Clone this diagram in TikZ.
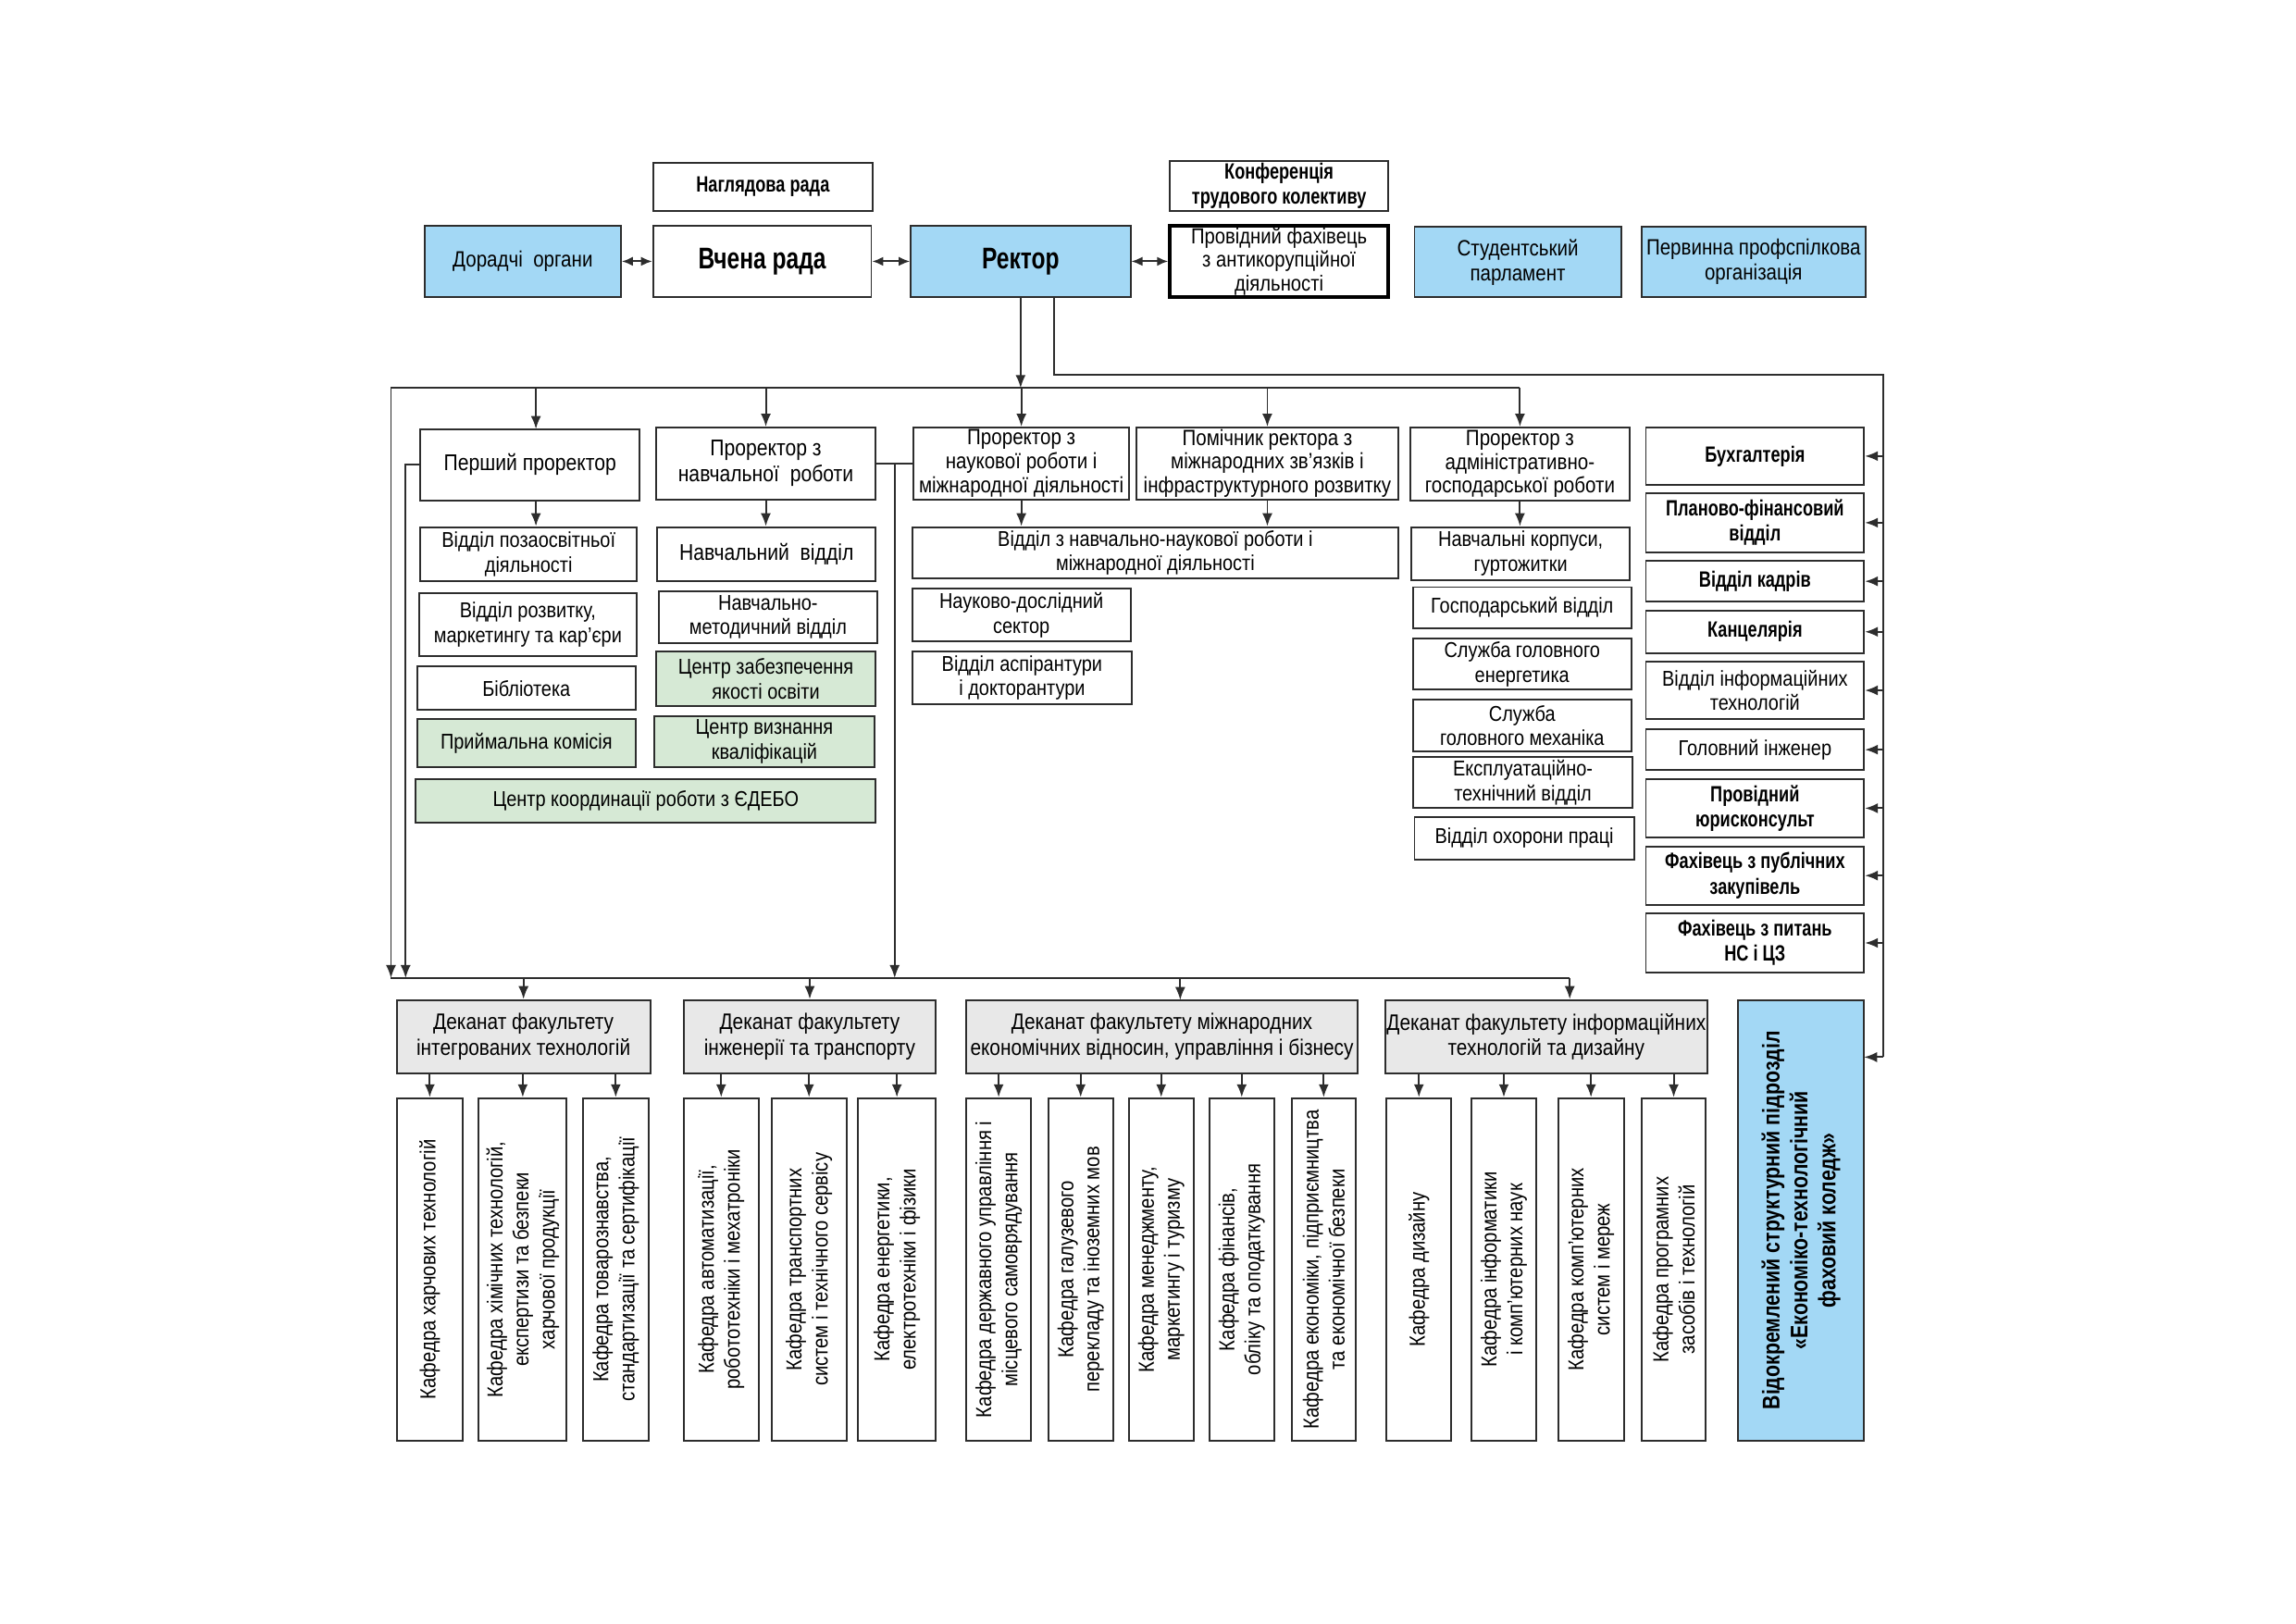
\documentclass[tikz,border=0pt]{standalone}
\usepackage{fontspec}
\setmainfont{Liberation Sans}[FakeStretch=0.86]
\newfontfamily\titlefont{Liberation Sans}[FakeStretch=0.76]
\newfontfamily\vidfont{Liberation Sans}[FakeStretch=0.82]
\usetikzlibrary{arrows.meta,calc}
\definecolor{cblue}{RGB}{163,216,245}
\definecolor{cgreen}{RGB}{214,233,213}
\definecolor{cgray}{RGB}{232,232,232}
\definecolor{lc}{RGB}{45,45,45}
\newcommand{\fMain}{\fontsize{6.6}{7.6}\selectfont}
\newcommand{\fTop}{\fontsize{6.8}{7.7}\selectfont}
\newcommand{\fBoldM}{\titlefont\bfseries\fontsize{6.8}{7.7}\selectfont}
\newcommand{\fTitle}{\titlefont\bfseries\fontsize{9.2}{10}\selectfont}
\newcommand{\fKaf}{\fontsize{6.7}{8}\selectfont}
\newcommand{\fVid}{\vidfont\bfseries\fontsize{7.4}{8.6}\selectfont}
\newcommand{\fDean}{\fontsize{6.9}{7.8}\selectfont}
\newcommand{\fVice}{\fontsize{6.8}{7.3}\selectfont}
\newcommand{\mybox}[7]{%
  \pgfmathsetmacro{\myW}{(#5-#3)*0.158227}%
  \pgfmathsetmacro{\myH}{(#6-#4)*0.158227}%
  \node[#1,minimum width=\myW mm,minimum height=\myH mm] (#2) at ({(#3+#5)/2},{(#4+#6)/2}) {#7};}
\newcommand{\mykaf}[7]{%
  \pgfmathsetmacro{\myW}{(#5-#3)*0.158227}%
  \pgfmathsetmacro{\myH}{(#6-#4)*0.158227}%
  \node[#1,rotate=90,minimum width=\myH mm,minimum height=\myW mm] (#2) at ({(#3+#5)/2},{(#4+#6)/2}) {#7};}
\tikzset{
  base/.style={draw=lc,line width=0.55pt,inner sep=0pt,align=center,font=\fMain},
  topreg/.style={base,font=\fTop},
  topbold/.style={base,font=\fBoldM},
  title/.style={base,font=\fTitle},
  bluebox/.style={fill=cblue},
  greenbox/.style={base,fill=cgreen},
  rbold/.style={base,font=\fBoldM},
  dean/.style={base,fill=cgray,font=\fDean},
  kaf/.style={base,font=\fKaf},
  vid/.style={base,fill=cblue,font=\fVid},
  vice/.style={base,font=\fVice},
  arr/.style={draw=lc,line width=0.55pt,-{Latex[length=1.4mm,width=1.1mm]}},
  darr/.style={draw=lc,line width=0.55pt,{Latex[length=1.2mm,width=1mm]}-{Latex[length=1.2mm,width=1mm]}},
  ln/.style={draw=lc,line width=0.55pt}
}
\begin{document}
\begin{tikzpicture}[x=0.158227mm,y=-0.158227mm]
\fill[white] (0,0) rectangle (1568,1109);
\useasboundingbox (0,0) rectangle (1568,1109);

% ---- top row
\mybox{topbold}{nag}{446}{111}{596}{144}{Наглядова рада}
\mybox{topbold}{konf}{799}{110}{948}{144}{Конференція\\трудового колективу}
\mybox{topreg,bluebox}{dor}{290}{154}{424}{203}{Дорадчі\ \ органи}
\mybox{title}{vch}{446}{154}{595}{203}{Вчена рада}
\mybox{title,bluebox}{rek}{622}{154}{772}{203}{Ректор}
\mybox{base,font=\fontsize{6.7}{7.3}\selectfont,draw=black,line width=1.1pt}{prov}{799}{154}{948}{203}{Провідний фахівець\\з антикорупційної\\діяльності}
\mybox{topreg,bluebox}{stud}{966}{155}{1107}{203}{Студентський\\парламент}
\mybox{topreg,bluebox}{perv}{1121}{155}{1274}{203}{Первинна профспілкова\\організація}

% ---- vice-rectors
\mybox{base,font=\fontsize{7}{8}\selectfont}{P1}{287}{293}{437}{342}{Перший проректор}
\mybox{base,font=\fontsize{7}{8}\selectfont}{P2}{448}{292}{598}{341}{Проректор з\\навчальної\ \ роботи}
\mybox{vice}{P3}{624}{292}{771}{341}{Проректор з\\наукової роботи і\\міжнародної діяльності}
\mybox{vice}{P4}{776}{292}{955}{341}{Помічник ректора з\\міжнародних зв’язків і\\інфраструктурного розвитку}
\mybox{vice}{P5}{963}{292}{1113}{342}{Проректор з\\адміністративно-\\господарської роботи}

% ---- under P1
\mybox{base}{A1}{287}{360}{435}{397}{Відділ позаосвітньої\\діяльності}
\mybox{base}{A2}{286}{405}{435}{448}{Відділ розвитку,\\маркетингу та кар’єри}
\mybox{base}{A3}{285}{455}{434}{485}{Бібліотека}
\mybox{greenbox}{A4}{285}{491}{434}{524}{Приймальна комісія}
\mybox{greenbox}{A5}{284}{532}{598}{562}{Центр координації роботи з ЄДЕБО}

% ---- under P2
\mybox{base,font=\fontsize{7}{8}\selectfont}{B1}{449}{360}{598}{397}{Навчальний\ \ відділ}
\mybox{base}{B2}{450}{404}{599}{439}{Навчально-\\методичний відділ}
\mybox{greenbox}{B3}{448}{445}{598}{482}{Центр забезпечення\\якості освіти}
\mybox{greenbox}{B4}{447}{489}{597}{524}{Центр визнання\\кваліфікацій}

% ---- under P3/P4
\mybox{base}{C1}{623}{360}{955}{395}{Відділ з навчально-наукової роботи і\\міжнародної діяльності}
\mybox{base}{C2}{623}{402}{772}{438}{Науково-дослідний\\сектор}
\mybox{base}{C3}{623}{445}{773}{481}{Відділ аспірантури\\і докторантури}

% ---- under P5
\mybox{base}{E1}{964}{360}{1113}{396}{Навчальні корпуси,\\гуртожитки}
\mybox{base}{E2}{965}{401}{1114}{429}{Господарський відділ}
\mybox{base}{E3}{965}{436}{1114}{471}{Служба головного\\енергетика}
\mybox{base}{E4}{965}{478}{1114}{513}{Служба\\головного механіка}
\mybox{base}{E5}{965}{517}{1115}{552}{Експлуатаційно-\\технічний відділ}
\mybox{base}{E6}{966}{558}{1116}{587}{Відділ охорони праці}

% ---- right column
\mybox{rbold}{R1}{1124}{292}{1273}{331}{Бухгалтерія}
\mybox{rbold}{R2}{1124}{337}{1273}{377}{Планово-фінансовий\\відділ}
\mybox{rbold}{R3}{1124}{383}{1273}{411}{Відділ кадрів}
\mybox{rbold}{R4}{1124}{417}{1273}{446}{Канцелярія}
\mybox{base}{R5}{1124}{452}{1273}{491}{Відділ інформаційних\\технологій}
\mybox{base}{R6}{1124}{498}{1273}{526}{Головний інженер}
\mybox{rbold}{R7}{1124}{532}{1273}{572}{Провідний\\юрисконсульт}
\mybox{rbold}{R8}{1124}{578}{1273}{618}{Фахівець з публічних\\закупівель}
\mybox{rbold}{R9}{1124}{624}{1273}{664}{Фахівець з питань\\НС і ЦЗ}

% ---- deaneries
\mybox{dean}{D1}{271}{683}{444}{733}{Деканат факультету\\інтегрованих технологій}
\mybox{dean}{D2}{467}{683}{639}{733}{Деканат факультету\\інженерії та транспорту}
\mybox{dean}{D3}{660}{683}{927}{733}{Деканат факультету міжнародних\\економічних відносин, управління і бізнесу}
\mybox{dean}{D4}{946}{683}{1166}{733}{Деканат факультету інформаційних\\технологій та дизайну}

% ---- departments (vertical)
\mykaf{kaf}{K1}{271}{750}{316}{984}{Кафедра харчових технологій}
\mykaf{kaf}{K2}{327}{750}{387}{984}{Кафедра хімічних технологій,\\експертизи та безпеки\\харчової продукції}
\mykaf{kaf}{K3}{398}{750}{443}{984}{Кафедра товарознавства,\\стандартизації та сертифікації}
\mykaf{kaf}{K4}{467}{750}{518}{984}{Кафедра автоматизації,\\робототехніки і мехатроніки}
\mykaf{kaf}{K5}{527}{750}{578}{984}{Кафедра транспортних\\систем і технічного сервісу}
\mykaf{kaf}{K6}{586}{750}{639}{984}{Кафедра енергетики,\\електротехніки і фізики}
\mykaf{kaf}{K7}{660}{750}{704}{984}{Кафедра державного управління і\\місцевого самоврядування}
\mykaf{kaf}{K8}{716}{750}{760}{984}{Кафедра галузевого\\перекладу та іноземних мов}
\mykaf{kaf}{K9}{771}{750}{815}{984}{Кафедра менеджменту,\\маркетингу і туризму}
\mykaf{kaf}{K10}{826}{750}{870}{984}{Кафедра фінансів,\\обліку та оподаткування}
\mykaf{kaf}{K11}{882}{750}{926}{984}{Кафедра економіки, підприємництва\\та економічної безпеки}
\mykaf{kaf}{K12}{947}{750}{991}{984}{Кафедра дизайну}
\mykaf{kaf}{K13}{1005}{750}{1049}{984}{Кафедра інформатики\\і комп’ютерних наук}
\mykaf{kaf}{K14}{1064}{750}{1109}{984}{Кафедра комп’ютерних\\систем і мереж}
\mykaf{kaf}{K15}{1121}{750}{1165}{984}{Кафедра програмних\\засобів і технологій}
\mykaf{vid}{Vid}{1187}{683}{1273}{984}{Відокремлений структурний підрозділ\\«Економіко-технологічний\\фаховий коледж»}

% ---- coordinates
\coordinate (tbL) at (267,265);
\coordinate (lbL) at (267,668);
\coordinate (lbR) at (1072,668);
\coordinate (r2) at (720,203);
\coordinate (rc) at (1286,256);
\coordinate (vidin) at (1273,722);
\coordinate (p1x) at (277,668);
\coordinate (d3in) at (806,683);
\coordinate (p1in) at (366,293);
\coordinate (j2) at ($(P2.east)!0.5!(P3.west)$);

% ---- top-row links
\draw[darr] (dor.east) -- (vch.west);
\draw[darr] (vch.east) -- (rek.west);
\draw[darr] (rek.east) -- (prov.west);

% ---- rector to vice-rectors
\draw[arr] (rek.south) -- (rek.south |- tbL);
\draw[ln] (tbL) -- (P5.north |- tbL);
\draw[arr] (p1in |- tbL) -- (p1in);
\foreach \p in {P2,P3,P4,P5} \draw[arr] (\p.north |- tbL) -- (\p.north);
\draw[arr] (tbL) -- (lbL);

% ---- rector to right column
\draw[ln] (r2) |- (rc) -- (rc |- vidin);
\draw[arr] (rc |- vidin) -- (vidin);
\foreach \r in {R1,R2,R3,R4,R5,R6,R7,R8,R9} \draw[arr] (\r.east -| rc) -- (\r.east);

% ---- vice-rectors to units
\draw[arr] (p1in |- P1.south) -- (p1in |- A1.north);
\draw[arr] (P2.south) -- (P2.south |- B1.north);
\draw[arr] (P3.south) -- (P3.south |- C1.north);
\draw[arr] (P4.south) -- (P4.south |- C1.north);
\draw[arr] (P5.south) -- (P5.south |- E1.north);

% ---- to deaneries
\draw[arr] (P1.west) -| (p1x);
\draw[ln] (P2.east) -- (P3.west);
\draw[arr] (j2) -- (j2 |- lbL);
\draw[ln] (lbL) -- (lbR);
\draw[arr] (lbR) -- (lbR |- D4.north);
\draw[arr] (D1.north |- lbL) -- (D1.north);
\draw[arr] (D2.north |- lbL) -- (D2.north);
\draw[arr] (d3in |- lbL) -- (d3in);

% ---- deaneries to departments
\foreach \k in {K1,K2,K3} \draw[arr] (\k.east |- D1.south) -- (\k.east);
\foreach \k in {K4,K5,K6} \draw[arr] (\k.east |- D2.south) -- (\k.east);
\foreach \k in {K7,K8,K9,K10,K11} \draw[arr] (\k.east |- D3.south) -- (\k.east);
\foreach \k in {K12,K13,K14,K15} \draw[arr] (\k.east |- D4.south) -- (\k.east);
\end{tikzpicture}
\end{document}
